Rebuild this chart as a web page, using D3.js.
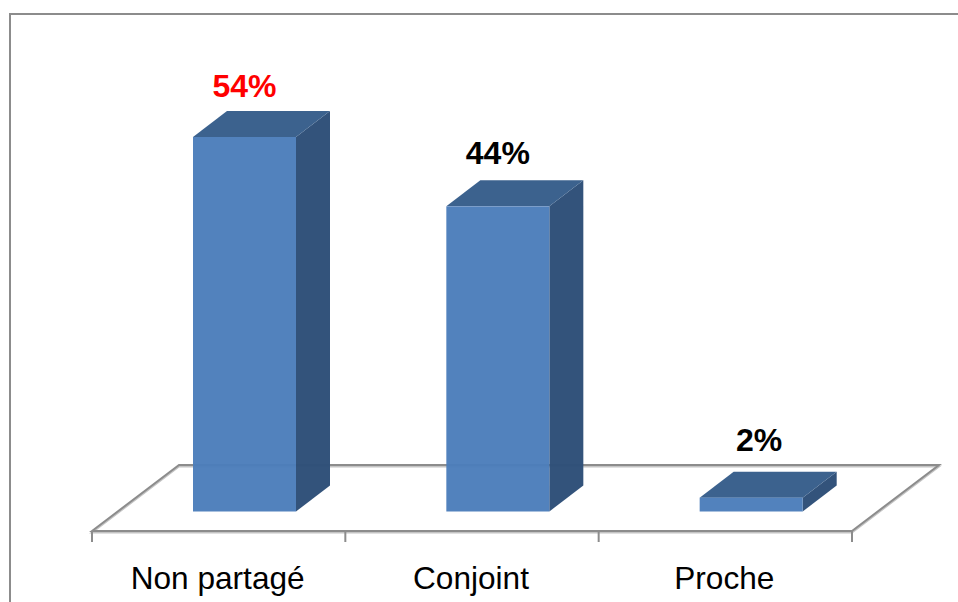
<!DOCTYPE html>
<html><head><meta charset="utf-8">
<style>html,body{margin:0;padding:0;background:#fff}svg{display:block}text{font-family:"Liberation Sans",Arial,sans-serif}</style>
<script src="https://cdn.jsdelivr.net/npm/d3@7"></script></head>
<body><svg id="c" width="958" height="602"></svg>
<script>
const categories=["Non partagé","Conjoint","Proche"];
const values=[54,44,2];
const labels=["54%","44%","2%"];
const labelColors=["#ff0000","#000000","#000000"];

const svg=d3.select("#c");
const x=d3.scaleBand().domain(categories).range([92,852]).paddingInner(0).paddingOuter(0);
const y=d3.scaleLinear().domain([0,54]).range([511.5,137]);
const dx=34,dy=-26,barW=103,barOffset=101;
const labelShift=[{x:0,y:0},{x:0,y:-2},{x:8,y:-6.5}];
const grey="#8c8c8c";
svg.append("path").attr("d","M10 602V14H958").attr("fill","none").attr("stroke",grey).attr("stroke-width",2);
// floor, with the soft lighter fringe the reference shows under its lines
const fx=[x.range()[0],x.range()[1]],fy=531;
const floorPath=`M${fx[0]} ${fy}L${fx[0]+87} 465H939L${fx[1]} ${fy}Z`;
svg.append("path").attr("d",floorPath).attr("transform","translate(0,1.5)").attr("fill","none").attr("stroke","#c4c4c4").attr("stroke-width",2);
svg.append("path").attr("d",floorPath).attr("fill","none").attr("stroke",grey).attr("stroke-width",2);
// ticks
const tickPos=[...categories.map(c=>x(c)),fx[1]];
svg.selectAll(".t").data(tickPos).join("line").attr("x1",d=>d).attr("x2",d=>d).attr("y1",fy).attr("y2",fy+11).attr("stroke",grey).attr("stroke-width",2);
// bars
const g=svg.selectAll(".b").data(categories).join("g");
g.each(function(c,i){
  const s=d3.select(this),L=x(c)+barOffset,R=L+barW,T=y(values[i]),B=y(0);
  s.append("path").attr("d",`M${R} ${T}l${dx} ${dy}V${B+dy}l${-dx} ${-dy}Z`).attr("fill","#2f5078").attr("fill-opacity",0.98);
  s.append("path").attr("d",`M${L} ${T}l${dx} ${dy}h${barW}l${-dx} ${-dy}Z`).attr("fill","#3c628e");
  s.append("rect").attr("x",L).attr("y",T).attr("width",barW).attr("height",B-T).attr("fill","#4c7ebb").attr("fill-opacity",0.97);
  s.append("text").attr("x",L+barW/2+labelShift[i].x).attr("y",T+dy-14+labelShift[i].y).attr("text-anchor","middle").attr("font-size",32).attr("font-weight","bold").attr("fill",labelColors[i]).text(labels[i]);
  s.append("text").attr("x",x(c)+x.bandwidth()/2-1).attr("y",589).attr("text-anchor","middle").attr("font-size",31.6).attr("fill","#000").text(c);
});
</script></body></html>
